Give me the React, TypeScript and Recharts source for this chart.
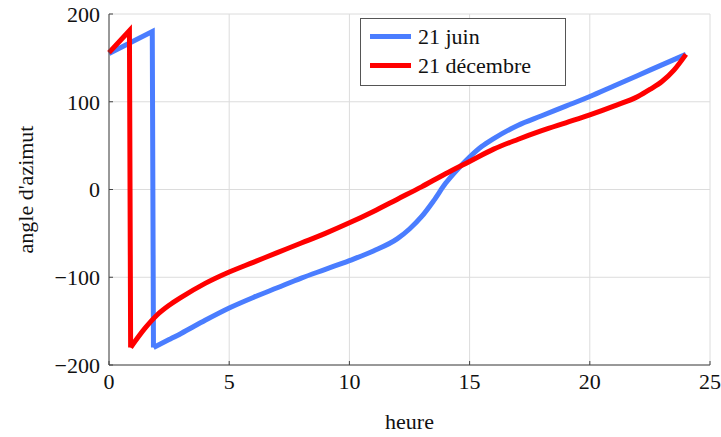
import { LineChart, Line, XAxis, YAxis, CartesianGrid, Legend } from 'recharts'

// 21 juin
const juinHeures = [0, 1.8, 1.85, 2.5, 3, 4, 5, 6, 7, 8, 9, 10, 11, 12, 12.5, 13, 13.5, 14, 14.5, 15, 15.5, 16, 17, 18, 19, 20, 21, 22, 23, 24]
const juinAngles = [155, 180, -180, -171, -164, -149, -135, -123, -112, -101, -91, -81, -70, -56, -45, -31, -13, 7, 23, 37, 49, 58, 73, 84, 95, 106, 118, 130, 142, 154]

// 21 décembre
const decHeures = [0, 0.85, 0.9, 1.5, 2, 2.5, 3, 4, 5, 6, 7, 8, 9, 10, 11, 12, 13, 14, 15, 16, 17, 18, 19, 20, 21, 22, 22.5, 23, 23.5, 24]
const decAngles = [156, 181, -180, -158, -143, -132, -123, -107, -94, -83, -72, -61, -50, -38, -25, -11, 3, 18, 32, 46, 57, 67, 76, 85, 95, 106, 114, 123, 136, 154]

const xTicks = [0, 5, 10, 15, 20, 25]
const yTicks = [-200, -100, 0, 100, 200]

const juin = juinHeures.map((h, i) => ({ heure: h, angle: juinAngles[i] }))
const decembre = decHeures.map((h, i) => ({ heure: h, angle: decAngles[i] }))
// the jump at ±180° is drawn straight, the rest smooth
const juinSaut = juin.slice(0, 3)
const juinCourbe = juin.slice(2)
const decSaut = decembre.slice(0, 3)
const decCourbe = decembre.slice(2)

const BLUE = '#4a7dff'
const RED = '#ff0000'
const FONT = '"Liberation Serif", "Times New Roman", serif'

const fmt = (v: number) => (v < 0 ? '\u2212' + Math.abs(v) : String(v))

const LegendBox = () => (
  <div style={{
    position: 'relative', width: 206, height: 68, boxSizing: 'border-box',
    border: '1px solid #555', background: '#fff', fontFamily: FONT, fontSize: 22, color: '#111',
  }}>
    {[{ name: '21 juin', color: BLUE, y: 18 }, { name: '21 décembre', color: RED, y: 47 }].map(r => (
      <div key={r.name}>
        <div style={{ position: 'absolute', left: 9, top: r.y - 3, width: 41, height: 5, background: r.color }} />
        <div style={{ position: 'absolute', left: 57, top: r.y - 14, lineHeight: '28px', whiteSpace: 'nowrap' }}>{r.name}</div>
      </div>
    ))}
  </div>
)

export default function App() {
  return (
    <div style={{ position: 'absolute', left: 0, top: 0, background: '#fff' }}>
      <LineChart width={721} height={437} margin={{ top: 14, right: 11, left: 0, bottom: 0 }}>
        <CartesianGrid stroke="#dcdcdc" strokeWidth={1} />
        <XAxis
          dataKey="heure" type="number" domain={[0, 25]} ticks={xTicks} allowDuplicatedCategory={false}
          height={72} stroke="#444" tickSize={-4} tickMargin={12}
          tick={{ fill: '#111', fontSize: 22, fontFamily: FONT }}
          label={{ value: 'heure', position: 'center', dy: 20, fill: '#111', fontSize: 22, fontFamily: FONT }}
        />
        <YAxis
          dataKey="angle" type="number" domain={[-200, 200]} ticks={yTicks} tickFormatter={fmt}
          width={109} stroke="#444" tickSize={-4} tickMargin={13}
          tick={{ fill: '#111', fontSize: 22, fontFamily: FONT }}
          label={{ value: "angle d'azimut", angle: -90, position: 'center', dx: -29, fill: '#111', fontSize: 22, fontFamily: FONT }}
        />
        <Legend
          layout="vertical" align="center" verticalAlign="middle"
          wrapperStyle={{ left: 360, top: 18, width: 206 }}
          content={() => <LegendBox />}
        />
        <Line data={juinSaut} dataKey="angle" name="21 juin" type="linear" stroke={BLUE} strokeWidth={5}
          dot={false} activeDot={false} isAnimationActive={false} legendType="none" />
        <Line data={juinCourbe} dataKey="angle" name="21 juin" type="monotone" stroke={BLUE} strokeWidth={5}
          dot={false} activeDot={false} isAnimationActive={false} />
        <Line data={decSaut} dataKey="angle" name="21 décembre" type="linear" stroke={RED} strokeWidth={5}
          dot={false} activeDot={false} isAnimationActive={false} legendType="none" />
        <Line data={decCourbe} dataKey="angle" name="21 décembre" type="monotone" stroke={RED} strokeWidth={5}
          dot={false} activeDot={false} isAnimationActive={false} />
      </LineChart>
    </div>
  )
}
